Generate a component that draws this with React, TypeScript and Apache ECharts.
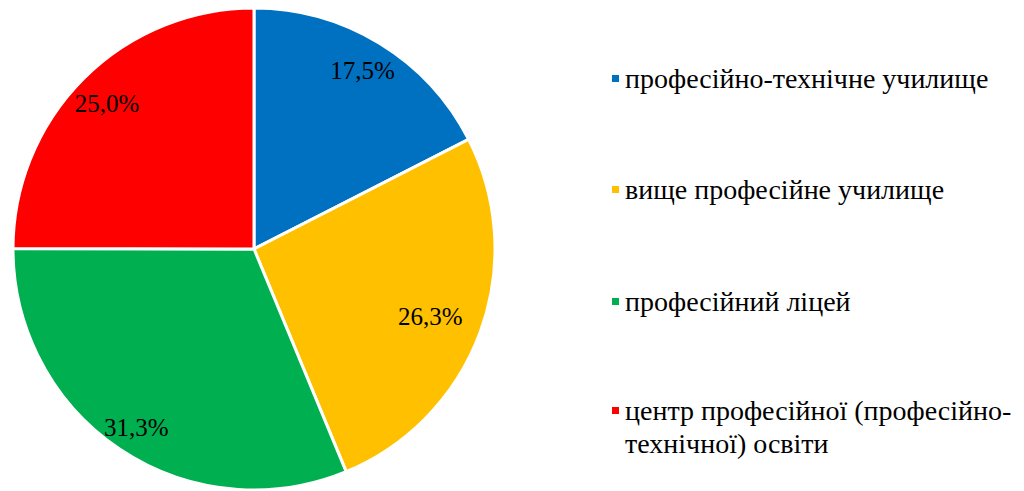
import React, { useEffect, useRef } from "react";
import * as echarts from "echarts";

const categories = [
  "професійно-технічне училище",
  "вище професійне училище",
  "професійний ліцей",
  "центр професійної (професійно-\nтехнічної) освіти",
];
const values = [17.5, 26.3, 31.3, 25.0];
const colors = ["#0070C0", "#FFC000", "#00B050", "#FF0000"];

const FONT = "Liberation Serif, Times New Roman, serif";
const LEGEND_SIZE = 28;
const LABEL_SIZE = 25;
const labelNudges = [
  [0, -1],
  [-19, -4],
  [-2, 6],
  [0, 2],
];
const legendTops = [57, 168, 280, 356];

export default function App() {
  const ref = useRef<HTMLDivElement>(null);
  useEffect(() => {
    if (!ref.current) return;
    const chart = echarts.init(ref.current, undefined, { renderer: "svg" });
    const data = categories.map((name, i) => ({
      name,
      value: values[i],
      itemStyle: { color: colors[i] },
    }));
    chart.setOption({
      animation: false,
      backgroundColor: "#ffffff",
      textStyle: { fontFamily: FONT },
      legend: categories.map((name, i) => ({
        orient: "vertical",
        left: 605,
        top: legendTops[i],
        icon: "rect",
        itemWidth: 9,
        itemHeight: 9,
        itemGap: 0,
        selectedMode: false,
        data: [name],
        // multi-line item: a leading blank line keeps the marker on the first line
        formatter: (n: string) => (n.indexOf("\n") >= 0 ? "\n" + n : n),
        textStyle: {
          fontFamily: FONT,
          fontSize: LEGEND_SIZE,
          color: "#000",
          lineHeight: 33,
        },
      })),
      series: [
        {
          type: "pie",
          center: [254, 249],
          radius: [0, 241],
          startAngle: 90,
          clockwise: true,
          data,
          label: { show: false },
          labelLine: { show: false },
          itemStyle: { borderColor: "#ffffff", borderWidth: 3 },
          silent: true,
        },
        {
          type: "pie",
          center: [254, 249],
          radius: [170, 240],
          startAngle: 90,
          clockwise: true,
          data: categories.map((name, i) => ({
            name,
            value: values[i],
            itemStyle: { color: "rgba(0,0,0,0)" },
            label: { offset: labelNudges[i] },
          })),
          label: {
            show: true,
            position: "inside",
            formatter: (p: any) =>
              p.value.toFixed(1).replace(".", ",") + "%",
            fontFamily: FONT,
            fontSize: LABEL_SIZE,
            color: "#000",
          },
          labelLine: { show: false },
          silent: true,
        },
      ],
    });
    return () => chart.dispose();
  }, []);
  return (
    <div
      ref={ref}
      style={{ position: "fixed", left: 0, top: 0, width: 1024, height: 491 }}
    />
  );
}
